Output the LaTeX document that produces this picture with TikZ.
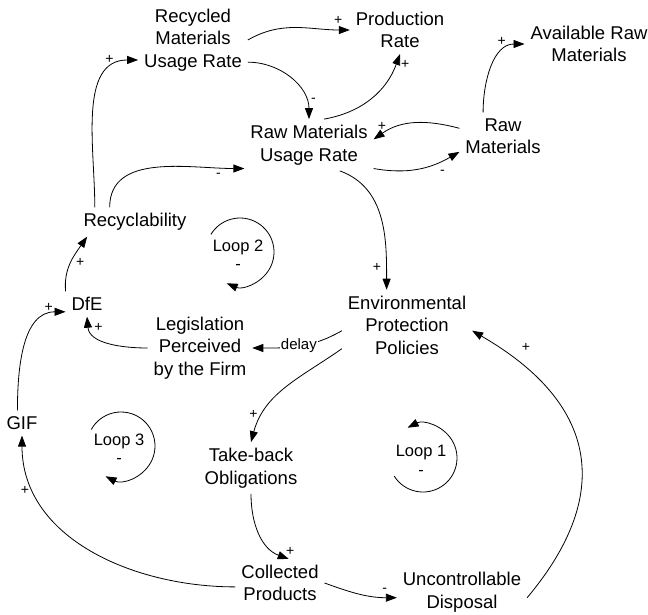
\documentclass[tikz,border=0pt]{standalone}
\usepackage{fontspec}
\setmainfont{Liberation Sans}
\usetikzlibrary{arrows.meta}

\begin{document}
\begin{tikzpicture}[x=1pt,y=1pt,
    var/.style={font=\fontsize{18.5}{22.5}\selectfont, align=center, inner sep=3pt, outer sep=3pt},
    link/.style={line width=0.8pt, -{Triangle[length=11pt,width=8pt]}},
    sgn/.style={font=\fontsize{14}{14}\selectfont, inner sep=1pt},
    lp/.style={font=\fontsize{16.5}{20}\selectfont, inner sep=1pt}]

    \useasboundingbox (0,0) rectangle (648,-614);

    \node[var] (rmu) at (193,-40) {Recycled\\Materials\\Usage Rate};
    \node[var] (prod) at (400,-30) {Production\\Rate};
    \node[var] (avail) at (589,-44) {Available Raw\\Materials};
    \node[var] (rmur) at (309,-145) {Raw Materials\\Usage Rate};
    \node[var] (rawm) at (503,-136) {Raw\\Materials};
    \node[var] (rec) at (135,-222) {Recyclability};
    \node[var] (dfe) at (87,-304) {DfE};
    \node[var] (leg) at (200,-348) {Legislation\\Perceived\\by the Firm};
    \node[var] (epp) at (407,-325) {Environmental\\Protection\\Policies};
    \node[var] (gif) at (22,-423) {GIF};
    \node[var] (tbo) at (251,-468) {Take-back\\Obligations};
    \node[var] (col) at (280,-583) {Collected\\Products};
    \node[var] (unc) at (462,-592) {Uncontrollable\\Disposal};

    \foreach \n/\cx/\cy/\sa/\ea in {1/423/-458/-148/117, 2/240/-252/149/-113, 3/121/-446/151/-117} {
        \node[lp] (loop\n) at (\cx-2,\cy+5) {Loop \n};
        \node[lp] (sign\n) at (\cx-2,\cy-15) {-};
        \draw[link] ([shift={(\sa:34)}]\cx,\cy) arc[start angle=\sa,end angle=\ea,radius=34];
    }

    \draw[link] (rmu.east) to[out=30,in=180] node[sgn,pos=.9,above=4pt] {+} (prod.west);
    \draw[link] (rmu.-22) to[out=0,in=90] node[sgn,pos=.8,right=4pt] {-} (rmur.north);
    \draw[link] (rmur.60) to[out=10,in=-110] node[sgn,pos=.9,right=4pt] {+} (prod.south);
    \draw[link] (rawm.170) to[out=165,in=35] node[sgn,pos=.9,above=2pt] {+} (rmur.5);
    \draw[link] (rmur.-20) to[out=-10,in=-150] node[sgn,pos=.8,below=8pt] {-} (rawm.200);
    \draw[link] (rawm.130) to[out=90,in=180] node[sgn,pos=.8,above left=1pt] {+} (avail.west);
    \draw[link] (rec.160) to[out=90,in=180] node[sgn,pos=.85,above left=1pt] {+} (rmu.200);
    \draw[link] (rec.150) to[out=90,in=180] node[sgn,pos=.85,below=4pt] {-} (rmur.200);
    \draw[link] (dfe.north west) to[out=95,in=-125] node[sgn,pos=.5,right=4pt] {+} (rec.-163);
    \draw[link] (leg.west) to[out=180,in=-85] node[sgn,pos=.85,right=3pt] {+} (dfe.south);
    \draw[link] (epp.-175) to[out=210,in=0] node[pos=.5,fill=white,inner sep=1pt,font=\fontsize{15}{16}\selectfont] {delay} (leg.east);
    \draw[link] (epp.-160) to[out=215,in=75] node[sgn,pos=.78,left=4pt] {+} (tbo.north);
    \draw[link] (rmur.-40) to[out=-20,in=90] node[sgn,pos=.85,left=4pt] {+} (epp.120);
    \draw[link] (tbo.south) to[out=-90,in=160] node[sgn,pos=.95,above right=0pt] {+} (col.70);
    \draw[link] (col.-175) to[out=180,in=-90] node[sgn,pos=.8,left=4pt] {+} (gif.south);
    \draw[link] (gif.110) to[out=90,in=180] node[sgn,pos=.85,above=2pt] {+} (dfe.200);
    \draw[link] (col.east) to[out=-20,in=180] node[sgn,pos=.85,above=3pt] {-} (unc.-175);
    \draw[link] (unc.-5) .. controls +(50:140) and +(-30:140) .. node[sgn,pos=.87,above right=6pt] {+} (epp.-5);

\end{tikzpicture}
\end{document}
